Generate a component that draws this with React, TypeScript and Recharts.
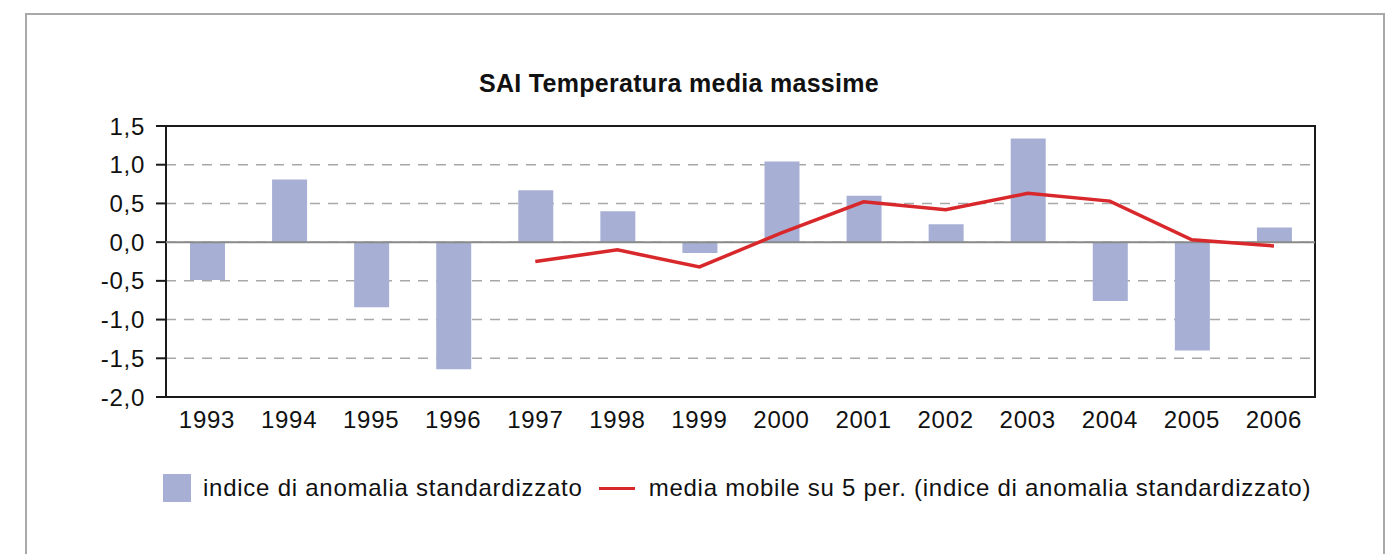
import {
  ComposedChart,
  Bar,
  Line,
  XAxis,
  YAxis,
  CartesianGrid,
  ReferenceLine,
  ReferenceArea,
  Legend
} from "recharts";

const YEARS = ["1993", "1994", "1995", "1996", "1997", "1998", "1999", "2000", "2001", "2002", "2003", "2004", "2005", "2006"];
const SAI = [-0.49, 0.81, -0.84, -1.64, 0.67, 0.4, -0.14, 1.04, 0.6, 0.23, 1.34, -0.76, -1.4, 0.19];
const MOVING_AVG = [null, null, null, null, -0.25, -0.1, -0.32, 0.12, 0.52, 0.42, 0.63, 0.53, 0.03, -0.05];
const Y_TICKS = [-2, -1.5, -1, -0.5, 0, 0.5, 1, 1.5];

const BAR_NAME = "indice di anomalia standardizzato";
const LINE_NAME = "media mobile su 5 per. (indice di anomalia standardizzato)";

const BAR_COLOR = "#a7b0d4";
const LINE_COLOR = "#d9282b";
const FONT = "'Liberation Sans', Arial, Helvetica, sans-serif";
const TEXT_STYLE = { fontSize: 24, fill: "#111", fontFamily: FONT, letterSpacing: 0.75 };

const data = YEARS.map((year, i) => ({ year, sai: SAI[i], avg: MOVING_AVG[i] }));

const fmt = (v: number) => v.toFixed(1).replace(".", ",");

function LegendBox() {
  return (
    <div
      style={{
        display: "flex",
        alignItems: "center",
        height: 42,
        fontFamily: FONT,
        fontSize: 24,
        letterSpacing: 0.75,
        color: "#111",
        whiteSpace: "nowrap"
      }}
    >
      <span style={{ width: 28, height: 28, background: BAR_COLOR, display: "inline-block" }} />
      <span style={{ marginLeft: 12 }}>{BAR_NAME}</span>
      <span style={{ marginLeft: 16, width: 36, height: 3, background: LINE_COLOR, display: "inline-block" }} />
      <span style={{ marginLeft: 14 }}>{LINE_NAME}</span>
    </div>
  );
}

export default function App() {
  return (
    <div style={{ position: "absolute", left: 0, top: 0, width: 1392, height: 554, background: "#fff", overflow: "hidden" }}>
      <div
        style={{
          position: "absolute",
          left: 25,
          top: 13,
          width: 1356,
          height: 600,
          border: "2px solid #a9a9a9"
        }}
      />
      <div
        style={{
          position: "absolute",
          left: 0,
          top: 71,
          width: 1358,
          textAlign: "center",
          fontFamily: FONT,
          fontWeight: "bold",
          fontSize: 25,
          lineHeight: "25px",
          letterSpacing: 0.3,
          color: "#111"
        }}
      >
        SAI Temperatura media massime
      </div>
      <div style={{ position: "absolute", left: 0, top: 0 }}>
        <ComposedChart width={1392} height={554} data={data} margin={{ top: 126, right: 77, left: 0, bottom: 45 }}>
          <CartesianGrid vertical={false} stroke="#a8a8a8" strokeDasharray="10 8" strokeWidth={1.5} />
          <XAxis
            dataKey="year"
            height={70}
            axisLine={false}
            tickLine={false}
            tickSize={6}
            tickMargin={8}
            interval={0}
            tick={TEXT_STYLE}
          />
          <YAxis
            width={166}
            domain={[-2, 1.5]}
            ticks={Y_TICKS}
            tickFormatter={fmt}
            axisLine={false}
            tickSize={10}
            tickMargin={11}
            tickLine={{ stroke: "#1a1a1a", strokeWidth: 2 }}
            tick={TEXT_STYLE}
          />
          <Legend
            verticalAlign="bottom"
            height={42}
            wrapperStyle={{ left: 163, width: 1200 }}
            content={() => <LegendBox />}
          />
          <ReferenceLine y={0} stroke="#8a8a8a" strokeWidth={2} />
          <Bar dataKey="sai" name={BAR_NAME} fill={BAR_COLOR} barSize={35} isAnimationActive={false} />
          <Line
            dataKey="avg"
            name={LINE_NAME}
            type="linear"
            stroke={LINE_COLOR}
            strokeWidth={3.5}
            dot={false}
            activeDot={false}
            isAnimationActive={false}
          />
          <ReferenceArea y1={-2} y2={1.5} fill="none" stroke="#1a1a1a" strokeWidth={2} ifOverflow="visible" />
        </ComposedChart>
      </div>
    </div>
  );
}
